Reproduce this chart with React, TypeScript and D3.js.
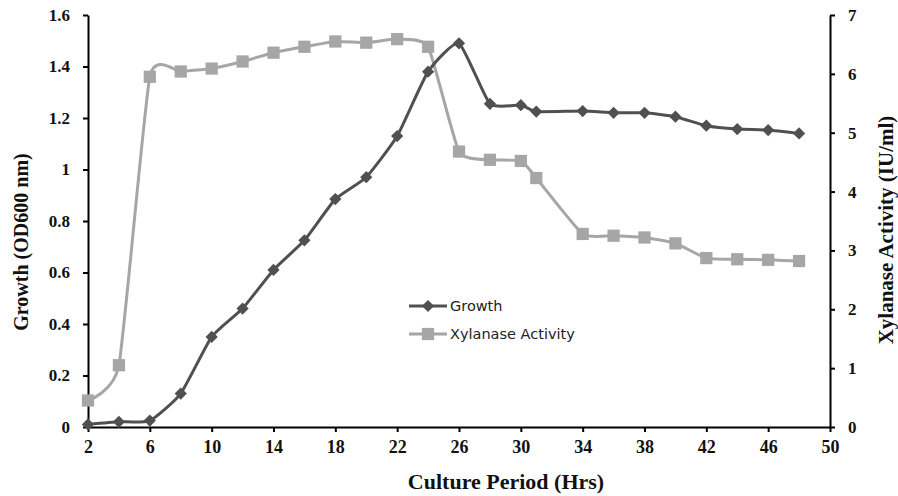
import * as d3 from 'd3';
import { useEffect, useRef } from 'react';

// Culture period (hours) at which samples were taken
const HOURS = [2, 4, 6, 8, 10, 12, 14, 16, 18, 20, 22, 24, 26, 28, 30, 31, 34, 36, 38, 40, 42, 44, 46, 48];
// Growth, OD600 (left axis)
const GROWTH = [0.01, 0.02, 0.025, 0.13, 0.35, 0.46, 0.61, 0.725, 0.885, 0.97, 1.13, 1.38, 1.49, 1.255, 1.25, 1.225, 1.227, 1.22, 1.22, 1.205, 1.17, 1.157, 1.153, 1.14];
// Xylanase activity, IU/ml (right axis)
const XYLANASE = [0.45, 1.05, 5.95, 6.04, 6.09, 6.21, 6.36, 6.46, 6.55, 6.53, 6.59, 6.46, 4.68, 4.54, 4.52, 4.23, 3.28, 3.25, 3.22, 3.12, 2.87, 2.85, 2.84, 2.82];

const X_TICKS = [2, 6, 10, 14, 18, 22, 26, 30, 34, 38, 42, 46, 50];
const LEFT_TICKS = [0, 0.2, 0.4, 0.6, 0.8, 1, 1.2, 1.4, 1.6];
const RIGHT_TICKS = [0, 1, 2, 3, 4, 5, 6, 7];

const W = 898;
const H = 496;
const PLOT = { left: 88, right: 830, top: 15, bottom: 427 };

const GROWTH_COLOR = '#505050';
const XYL_COLOR = '#a6a6a6';
const SERIF = '"Liberation Serif", "Times New Roman", serif';
const SANS = '"DejaVu Sans", Verdana, sans-serif';

export default function App() {
  const svgRef = useRef<SVGSVGElement>(null);

  useEffect(() => {
    if (!svgRef.current) return;
    const svg = d3.select(svgRef.current);
    svg.selectAll('*').remove();

    svg.append('rect').attr('width', W).attr('height', H).attr('fill', '#fff');

    const x = d3.scaleLinear().domain([2, 50]).range([PLOT.left, PLOT.right]);
    const yL = d3.scaleLinear().domain([0, 1.6]).range([PLOT.bottom, PLOT.top]);
    const yR = d3.scaleLinear().domain([0, 7]).range([PLOT.bottom, PLOT.top]);

    // axes
    const styleAxis = (g: d3.Selection<SVGGElement, unknown, null, undefined>, size: number) => {
      g.select('.domain').attr('stroke', '#000').attr('stroke-width', 2);
      g.selectAll('.tick line').attr('stroke', '#000').attr('stroke-width', 2);
      g.selectAll('.tick text')
        .attr('fill', '#111')
        .attr('font-family', SERIF)
        .attr('font-weight', 'bold')
        .attr('font-size', size);
    };

    const gx = svg.append('g')
      .attr('transform', `translate(0,${PLOT.bottom})`)
      .call(d3.axisBottom(x).tickValues(X_TICKS).tickSize(5).tickSizeOuter(0).tickPadding(8).tickFormat(d3.format('d')));
    styleAxis(gx, 18);

    const gl = svg.append('g')
      .attr('transform', `translate(${PLOT.left},0)`)
      .call(d3.axisLeft(yL).tickValues(LEFT_TICKS).tickSize(5).tickSizeOuter(0).tickPadding(13).tickFormat(d => String(d)));
    styleAxis(gl, 17);

    const gr = svg.append('g')
      .attr('transform', `translate(${PLOT.right},0)`)
      .call(d3.axisRight(yR).tickValues(RIGHT_TICKS).tickSize(5).tickSizeOuter(0).tickPadding(13).tickFormat(d3.format('d')));
    styleAxis(gr, 17);

    // series (smoothed lines, like the spreadsheet original)
    const smooth = d3.curveCardinal.tension(0.5);
    const growthLine = d3.line<number>()
      .x((_, i) => x(HOURS[i]))
      .y(d => yL(d))
      .curve(smooth);
    const xylLine = d3.line<number>()
      .x((_, i) => x(HOURS[i]))
      .y(d => yR(d))
      .curve(smooth);

    svg.append('path').datum(XYLANASE)
      .attr('d', xylLine).attr('fill', 'none')
      .attr('stroke', XYL_COLOR).attr('stroke-width', 3);
    svg.append('path').datum(GROWTH)
      .attr('d', growthLine).attr('fill', 'none')
      .attr('stroke', GROWTH_COLOR).attr('stroke-width', 3);

    const square = d3.symbol().type(d3.symbolSquare).size(150);
    const diamond = d3.symbol().type(d3.symbolDiamond2).size(95);

    svg.append('g').selectAll('path')
      .data(XYLANASE)
      .join('path')
      .attr('d', square)
      .attr('transform', (d, i) => `translate(${x(HOURS[i])},${yR(d)})`)
      .attr('fill', XYL_COLOR);

    svg.append('g').selectAll('path')
      .data(GROWTH)
      .join('path')
      .attr('d', diamond)
      .attr('transform', (d, i) => `translate(${x(HOURS[i])},${yL(d)})`)
      .attr('fill', GROWTH_COLOR);

    // legend
    const legend = svg.append('g').attr('transform', 'translate(409,306)');
    const items = [
      { label: 'Growth', color: GROWTH_COLOR, sym: diamond },
      { label: 'Xylanase Activity', color: XYL_COLOR, sym: square },
    ];
    items.forEach((it, i) => {
      const row = legend.append('g').attr('transform', `translate(0,${i * 28})`);
      row.append('line').attr('x1', 0).attr('x2', 38).attr('stroke', it.color).attr('stroke-width', 3);
      row.append('path').attr('d', it.sym).attr('transform', 'translate(19,0)').attr('fill', it.color);
      row.append('text')
        .attr('x', 41)
        .attr('dy', '0.36em')
        .attr('font-family', SANS)
        .attr('font-size', 14.5)
        .attr('fill', '#222')
        .text(it.label);
    });

    // axis titles
    svg.append('text')
      .attr('x', 506)
      .attr('y', 489)
      .attr('text-anchor', 'middle')
      .attr('font-family', SERIF)
      .attr('font-weight', 'bold')
      .attr('font-size', 22)
      .attr('fill', '#111')
      .text('Culture Period (Hrs)');

    svg.append('text')
      .attr('transform', 'translate(28,242) rotate(-90)')
      .attr('text-anchor', 'middle')
      .attr('font-family', SERIF)
      .attr('font-weight', 'bold')
      .attr('font-size', 20)
      .attr('fill', '#111')
      .text('Growth (OD600 nm)');

    svg.append('text')
      .attr('transform', 'translate(893,230) rotate(-90)')
      .attr('text-anchor', 'middle')
      .attr('font-family', SERIF)
      .attr('font-weight', 'bold')
      .attr('font-size', 21)
      .attr('fill', '#111')
      .text('Xylanase Activity (IU/ml)');
  }, []);

  return (
    <svg
      ref={svgRef}
      width={W}
      height={H}
      style={{ position: 'absolute', left: 0, top: 0 }}
    />
  );
}
